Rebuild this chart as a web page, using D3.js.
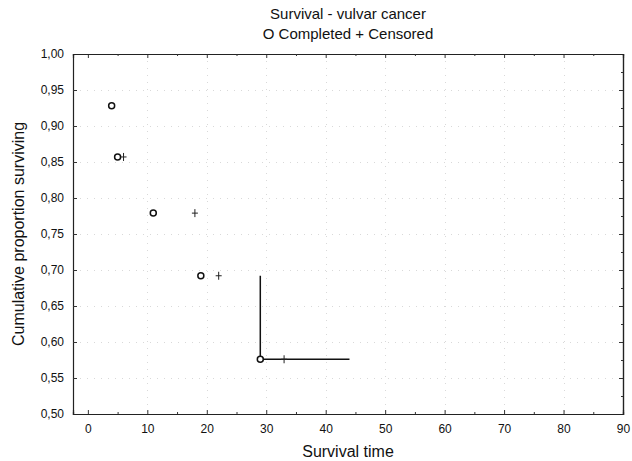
<!DOCTYPE html>
<html>
<head>
<meta charset="utf-8">
<script src="https://cdn.jsdelivr.net/npm/d3@7"></script>
<style>
  html, body { margin: 0; padding: 0; background: #fff; }
  svg { display: block; }
  .title { font-family: "Liberation Sans", Arial, sans-serif; font-size: 15px; fill: #111; }
  .axis-title { font-family: "Liberation Sans", Arial, sans-serif; font-size: 16px; fill: #111; }
</style>
</head>
<body>
<svg id="chart" width="632" height="461"></svg>
<script>
// ---- data ----
const titleLines = ["Survival - vulvar cancer", "O Completed + Censored"];
const xLabel = "Survival time";
const yLabel = "Cumulative proportion surviving";

const completedTime = [4, 5, 11, 19, 29];
const completedSurv = [0.928, 0.857, 0.779, 0.692, 0.576];

const censoredTime = [6, 18, 22, 33];
const censoredSurv = [0.857, 0.779, 0.692, 0.576];

const stepTime = [29, 29, 44];
const stepSurv = [0.692, 0.576, 0.576];

const xTicks = [0, 10, 20, 30, 40, 50, 60, 70, 80, 90];
const yTicks = [0.50, 0.55, 0.60, 0.65, 0.70, 0.75, 0.80, 0.85, 0.90, 0.95, 1.00];

// ---- layout ----
const svg = d3.select("#chart");
const L = 73, R = 623, T = 54, B = 414;

const x = d3.scaleLinear().domain([-2.5, 90]).range([L, R]);
const y = d3.scaleLinear().domain([0.5, 1.0]).range([B, T]);

const fmtY = v => d3.format(".2f")(v).replace(".", ",");

// grid (faint dotted)
const grid = svg.append("g").attr("stroke", "#d9d9d9").attr("stroke-width", 1).attr("stroke-dasharray", "1,6");
grid.selectAll(".gx").data(xTicks.filter(d => d > 0 && d < 90)).enter().append("line")
  .attr("x1", d => Math.round(x(d)) + 0.5).attr("x2", d => Math.round(x(d)) + 0.5)
  .attr("y1", T).attr("y2", B);
grid.selectAll(".gy").data(yTicks.filter(d => d > 0.5 && d < 1)).enter().append("line")
  .attr("y1", d => Math.round(y(d)) + 0.5).attr("y2", d => Math.round(y(d)) + 0.5)
  .attr("x1", L).attr("x2", R);

// axes with inward ticks
const minorX = d3.range(5, 90, 10);
const minorY = d3.range(0.525, 1.0, 0.05);

svg.append("g").attr("transform", `translate(0,${B})`)
  .call(d3.axisBottom(x).tickValues(xTicks).tickSize(-4).tickPadding(10).tickFormat(d3.format("d")));
svg.append("g").attr("transform", `translate(0,${T})`)
  .call(d3.axisTop(x).tickValues(xTicks).tickSize(-4).tickFormat(""));
svg.append("g").attr("transform", `translate(${L},0)`)
  .call(d3.axisLeft(y).tickValues(yTicks).tickSize(-4).tickPadding(9).tickFormat(fmtY));
svg.append("g").attr("transform", `translate(${R},0)`)
  .call(d3.axisRight(y).tickValues(yTicks).tickSize(-4).tickFormat(""));

// minor ticks
svg.append("g").attr("transform", `translate(0,${B})`)
  .call(d3.axisBottom(x).tickValues(minorX).tickSize(-2).tickFormat(""));
svg.append("g").attr("transform", `translate(0,${T})`)
  .call(d3.axisTop(x).tickValues(minorX).tickSize(-2).tickFormat(""));
svg.append("g").attr("transform", `translate(${R},0)`)
  .call(d3.axisRight(y).tickValues(minorY).tickSize(-2).tickFormat(""));

svg.selectAll(".domain").attr("stroke", "#222").attr("stroke-width", 1.2);
svg.selectAll(".tick line").attr("stroke", "#333");
svg.selectAll(".tick text")
  .style("font-family", "'Liberation Sans Narrow','Liberation Sans',Arial,sans-serif")
  .style("font-size", "12px").attr("fill", "#111");

// step line
const stepData = stepTime.map((t, i) => [t, stepSurv[i]]);
svg.append("path").datum(stepData)
  .attr("fill", "none").attr("stroke", "#111").attr("stroke-width", 1.5)
  .attr("d", d3.line().x(d => x(d[0])).y(d => y(d[1])));

// completed markers (circles)
svg.append("g").selectAll("circle").data(completedTime.map((t, i) => [t, completedSurv[i]]))
  .enter().append("circle")
  .attr("cx", d => x(d[0])).attr("cy", d => y(d[1])).attr("r", 3)
  .attr("fill", "#fff").attr("stroke", "#111").attr("stroke-width", 1.5);

// censored markers (+)
const cens = svg.append("g").attr("stroke", "#222").attr("stroke-width", 1);
censoredTime.forEach((t, i) => {
  const cx = x(t), cy = y(censoredSurv[i]);
  cens.append("line").attr("x1", cx - 3).attr("x2", cx + 3).attr("y1", cy).attr("y2", cy);
  cens.append("line").attr("x1", cx).attr("x2", cx).attr("y1", cy - 4).attr("y2", cy + 4);
});

// titles
svg.append("text").attr("class", "title").attr("x", (L + R) / 2).attr("y", 19)
  .attr("text-anchor", "middle").text(titleLines[0]);
svg.append("text").attr("class", "title").attr("x", (L + R) / 2).attr("y", 39)
  .attr("text-anchor", "middle").text(titleLines[1]);

svg.append("text").attr("class", "axis-title").attr("x", (L + R) / 2).attr("y", 457)
  .attr("text-anchor", "middle").text(xLabel);
svg.append("text").attr("class", "axis-title")
  .attr("transform", `translate(24,${(T + B) / 2}) rotate(-90)`)
  .attr("text-anchor", "middle").text(yLabel);
</script>
</body>
</html>
